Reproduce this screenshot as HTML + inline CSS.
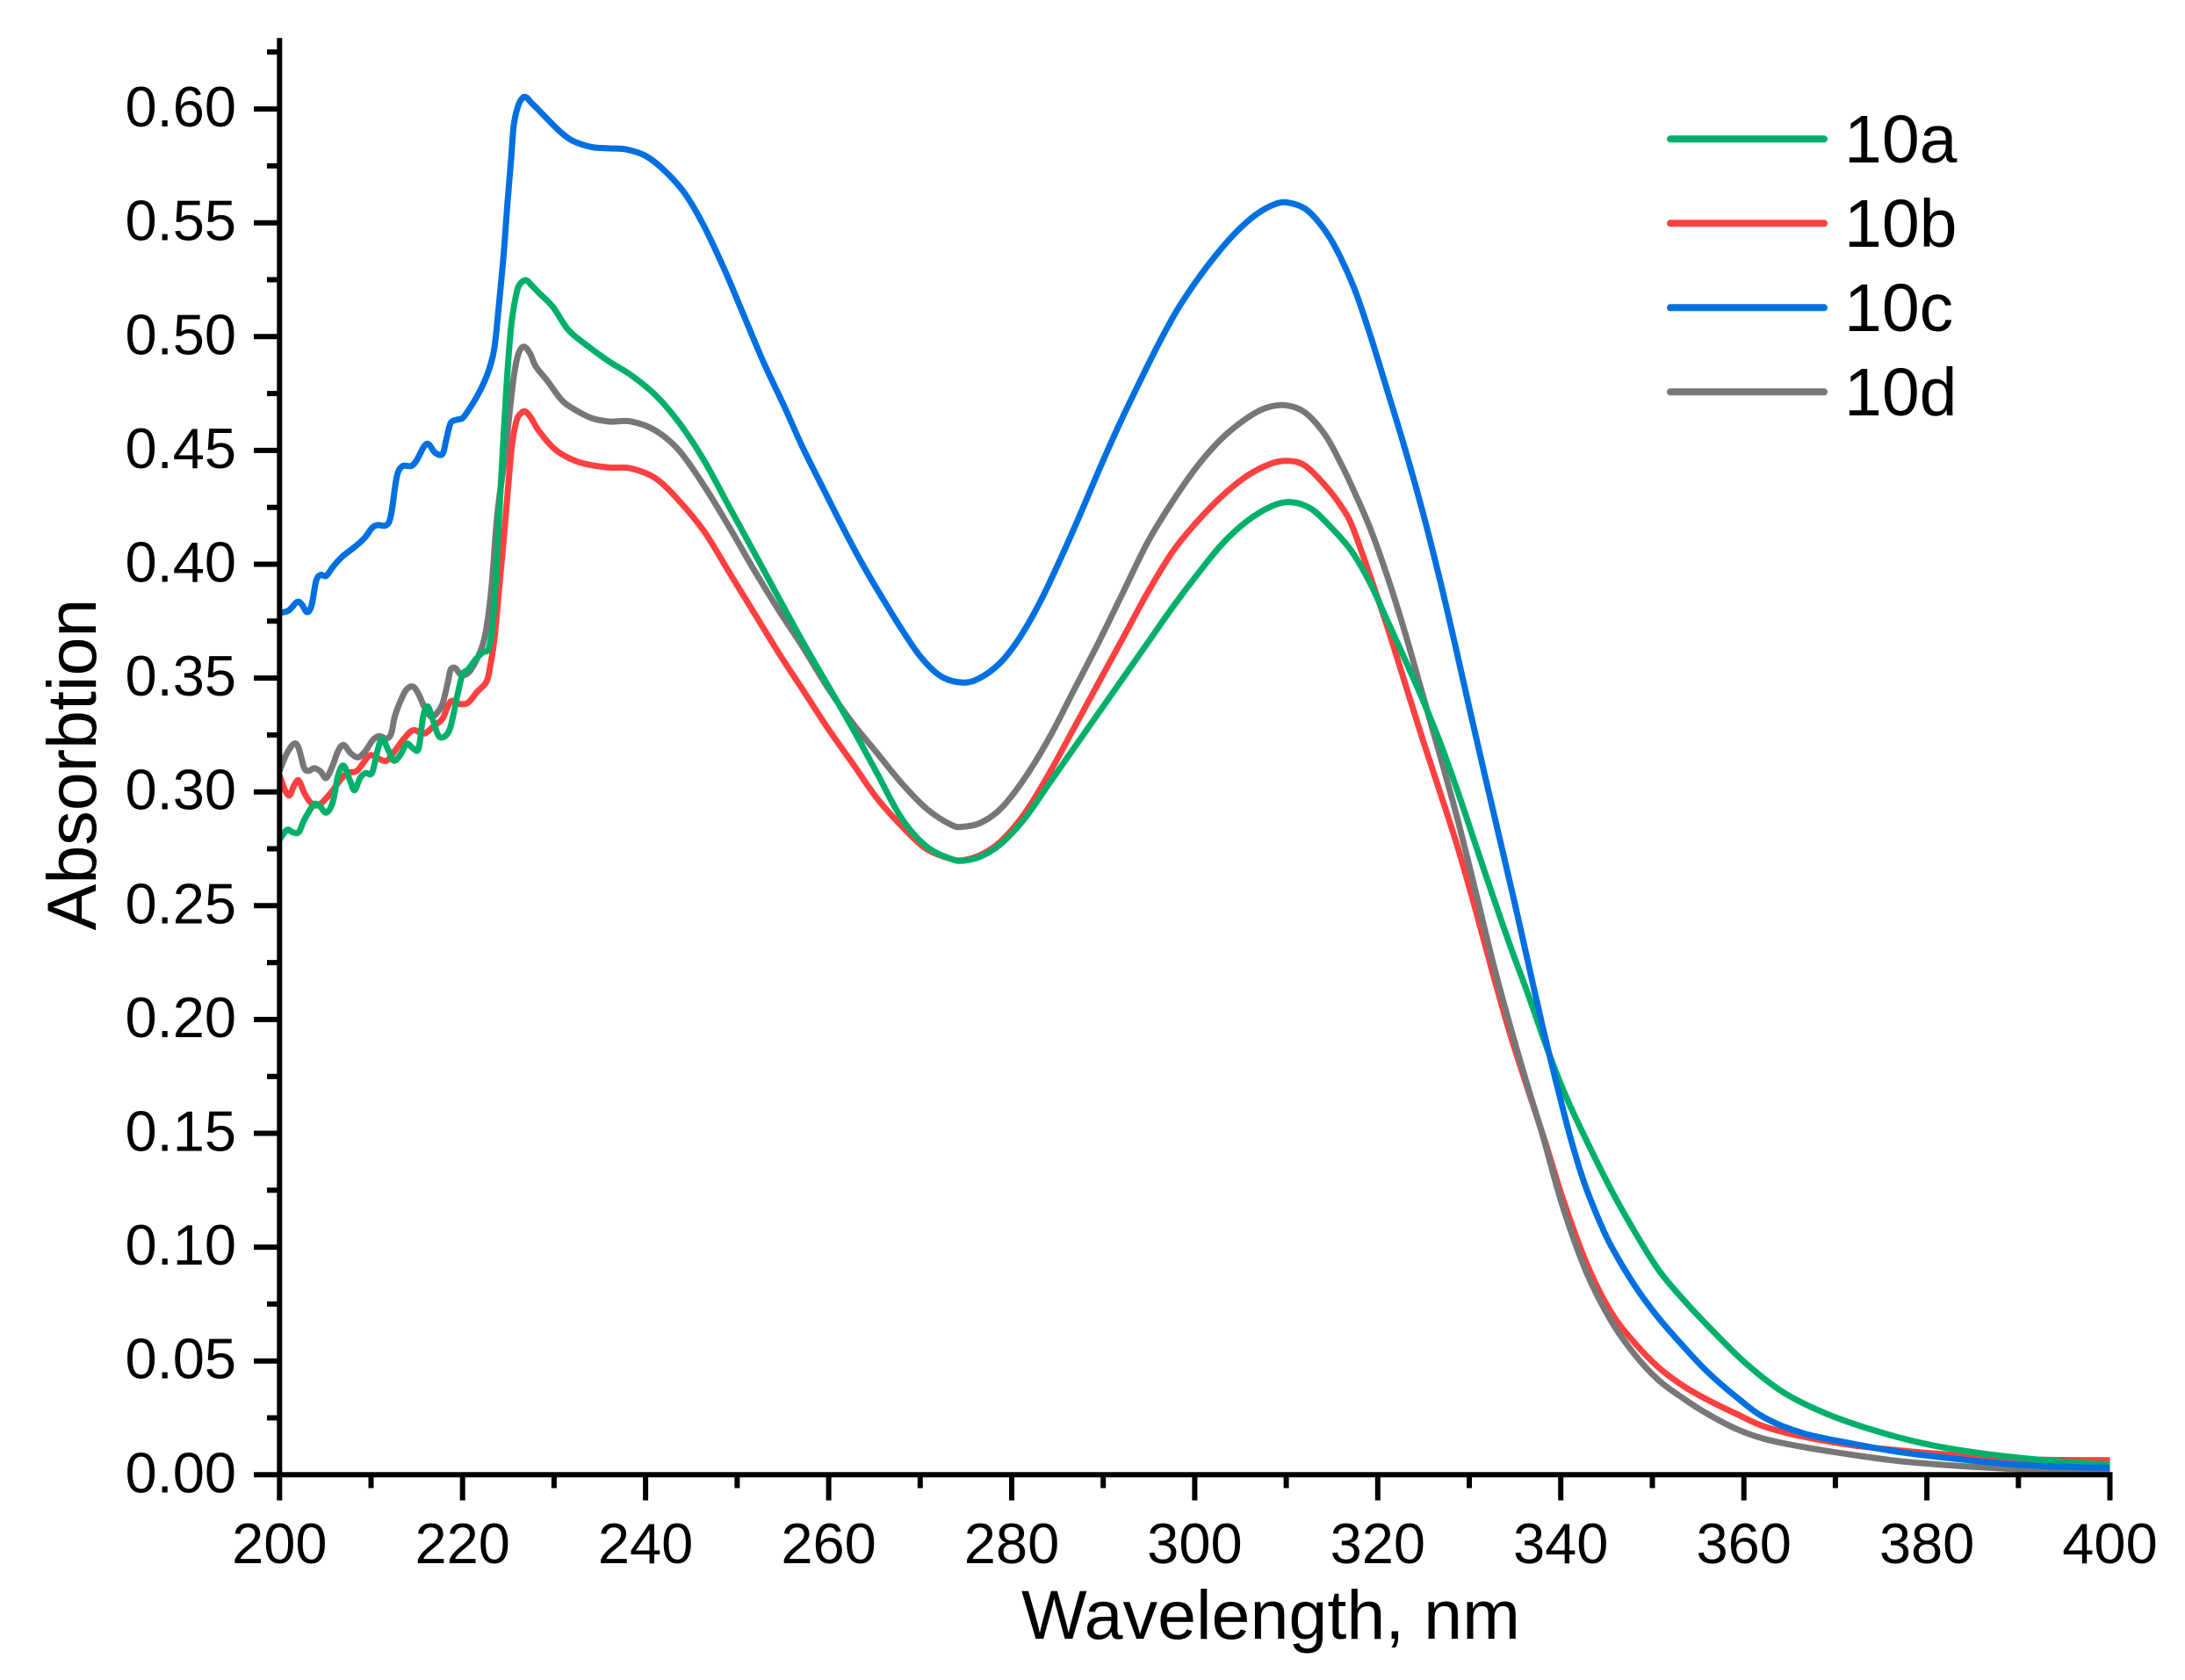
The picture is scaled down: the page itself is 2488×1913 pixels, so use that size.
<!DOCTYPE html>
<html><head><meta charset="utf-8"><style>
html,body{margin:0;padding:0;background:#fff;}
svg{display:block;}
text{font-family:"Liberation Sans",Arial,sans-serif;fill:#000;}
</style></head><body>
<svg id="chart" width="2488" height="1913" viewBox="0 0 2488 1913" xmlns="http://www.w3.org/2000/svg">
<rect width="2488" height="1913" fill="#fff"/>

<g id="curves" fill="none" stroke-linejoin="round" stroke-linecap="butt"></g>

<g id="raw" transform="matrix(10.421 0 0 -2592 -1765.9 1679.3)" fill="none" stroke-linejoin="round" stroke-linecap="butt">
<polyline class="d" vector-effect="non-scaling-stroke" stroke="#FF4040" stroke-width="7" points="200,0.3072 200.6,0.3007 201.1,0.2985 201.6,0.3029 202.1,0.305 202.7,0.2996 203.4,0.2953 204.3,0.2942 205.6,0.2996 206.6,0.305 207.4,0.3083 208.5,0.3094 209.8,0.3159 210.7,0.3148 211.7,0.3137 212.6,0.318 213.6,0.3234 214.6,0.3271 215.8,0.3256 216.8,0.3288 217.8,0.3321 218.7,0.3397 219.7,0.3386 220.6,0.3392 221.6,0.344 222.6,0.3483 223.0,0.3548 223.5,0.3678 224.0,0.3895 224.5,0.4111 225.0,0.435 225.4,0.4523 225.9,0.4631 226.4,0.4664 226.9,0.467 227.5,0.4642 228.3,0.4588 229.9,0.4512 231.5,0.4469 233.4,0.4441 236.0,0.4425 238.4,0.4421 241.1,0.4377 243.7,0.4277 246.4,0.4144 249.1,0.3967 251.8,0.379 254.5,0.3613 257.2,0.3447 259.9,0.328 262.6,0.3126 265.3,0.2971 268.0,0.2849 270.7,0.2749 273.4,0.2705 274.7,0.27 276.6,0.2723 278.8,0.2782 281.4,0.2904 284.1,0.3081 286.8,0.328 289.5,0.348 292.2,0.3679 294.9,0.3879 297.6,0.4056 300.3,0.4189 303.0,0.43 305.7,0.4388 308.4,0.4443 310.3,0.4454 312.1,0.4432 314.3,0.4344 316.0,0.4255 317.23,0.4165 319.15,0.395 321.07,0.3722 322.99,0.3476 324.91,0.323 326.83,0.2995 328.75,0.2755 330.67,0.2485 332.59,0.2200 334.51,0.1930 336.43,0.1690 338.35,0.1455 340.2,0.1215 342.8,0.0930 345.5,0.0713 348.1,0.0578 350.7,0.0471 353.4,0.039 356.0,0.033 359.2,0.0267 362.3,0.0211 366.5,0.0167 371.8,0.013 377.0,0.0107 382.3,0.0089 387.6,0.0074 392.8,0.0066 400,0.0064"/>
<polyline class="d" vector-effect="non-scaling-stroke" stroke="#777777" stroke-width="7" points="200,0.3093 200.8,0.3169 201.6,0.3212 202.1,0.3191 202.7,0.3104 203.2,0.3093 203.8,0.3104 204.5,0.3089 205.1,0.3061 205.8,0.3115 206.4,0.318 207.0,0.3206 207.8,0.3169 208.6,0.3152 209.4,0.318 210.2,0.3228 210.9,0.3245 211.7,0.3234 212.2,0.3256 212.6,0.3332 213.3,0.3407 213.9,0.3451 214.6,0.3462 215.2,0.3429 215.8,0.3375 216.5,0.3332 217.1,0.3342 217.8,0.3386 218.4,0.3483 218.7,0.3537 219.2,0.3544 219.8,0.3516 220.6,0.3522 221.4,0.357 222.2,0.3646 222.7,0.3743 223.2,0.3916 223.8,0.422 224.5,0.4436 225.1,0.4653 225.6,0.4826 226.1,0.4924 226.7,0.4956 227.4,0.4924 228.0,0.4869 229.3,0.4804 230.9,0.4718 232.5,0.4674 234.1,0.4642 236.0,0.4627 238.4,0.4627 241.1,0.4587 243.7,0.4498 246.4,0.4344 249.1,0.4166 251.8,0.3978 254.5,0.3801 257.2,0.3635 259.9,0.3458 262.6,0.3303 265.3,0.317 268.0,0.3037 270.7,0.2926 273.4,0.2855 274.7,0.2847 276.6,0.2864 278.8,0.2926 281.4,0.3059 284.1,0.3237 286.8,0.3447 289.5,0.3657 292.2,0.3879 294.9,0.41 297.6,0.4277 300.3,0.4432 303.0,0.4554 305.7,0.4642 307.8,0.4687 310.0,0.4698 312.1,0.4665 314.3,0.4565 316.0,0.4440 317.23,0.4337 319.15,0.4160 321.07,0.3944 322.99,0.3698 324.91,0.3427 326.83,0.3156 328.75,0.2875 330.67,0.2566 332.59,0.2250 334.51,0.1965 336.43,0.1700 338.03,0.1490 340.2,0.1180 342.8,0.0890 345.5,0.0676 348.1,0.0527 350.7,0.0415 353.4,0.0335 356.0,0.0268 359.2,0.0201 362.3,0.0157 366.5,0.0122 371.8,0.0088 377.0,0.006 382.3,0.0042 387.6,0.0029 392.8,0.002 400,0.0015"/>
<polyline class="d" vector-effect="non-scaling-stroke" stroke="#00B06A" stroke-width="7" points="200,0.279 200.8,0.2833 201.4,0.2823 202.1,0.2823 202.7,0.2877 203.7,0.2942 204.3,0.2942 205.1,0.2909 205.8,0.2953 206.4,0.3072 207.0,0.3115 207.7,0.305 208.2,0.3007 208.8,0.3061 209.4,0.3083 210.1,0.3083 210.7,0.318 211.2,0.3234 211.8,0.3191 212.5,0.3137 213.3,0.3169 213.9,0.3212 214.6,0.3191 215.2,0.3191 215.7,0.3332 216.2,0.3375 216.8,0.331 217.4,0.3245 218.1,0.3245 218.7,0.3288 219.4,0.3418 220.0,0.3516 220.6,0.3537 221.4,0.3581 222.2,0.3613 222.9,0.3635 223.4,0.3786 223.8,0.4068 224.3,0.4436 224.8,0.4783 225.3,0.5043 225.8,0.5173 226.2,0.5227 226.9,0.5248 227.5,0.5227 228.3,0.5194 229.9,0.5129 231.5,0.5032 233.4,0.4967 236.0,0.4891 238.4,0.4831 241.1,0.4742 243.7,0.462 246.4,0.4455 249.1,0.4255 251.8,0.4056 254.5,0.3856 257.2,0.3657 259.9,0.3469 262.6,0.328 265.3,0.3081 268.0,0.2882 270.7,0.276 273.4,0.2705 274.7,0.2698 276.6,0.2716 278.8,0.2771 281.4,0.2882 284.1,0.3037 286.8,0.3192 289.5,0.3347 292.2,0.3502 294.9,0.3657 297.6,0.3812 300.3,0.3956 303.0,0.4089 305.7,0.4189 308.4,0.4255 310.5,0.4273 312.7,0.4244 314.8,0.4166 317.1,0.4060 319.15,0.3919 321.07,0.3750 322.99,0.3580 324.91,0.3405 326.83,0.3215 328.75,0.3000 330.67,0.2770 332.59,0.2541 334.51,0.2319 336.43,0.2110 338.35,0.1890 340.27,0.1690 342.19,0.1520 345.5,0.1252 348.1,0.1066 350.7,0.0899 353.4,0.0769 356.0,0.0657 360.2,0.049 364.4,0.036 369.1,0.0267 374.4,0.0193 379.7,0.0137 384.9,0.01 390.2,0.0074 395.5,0.0055 400,0.0045"/>
<polyline class="d" vector-effect="non-scaling-stroke" stroke="#0070E0" stroke-width="7" points="200,0.3786 201,0.3797 201.9,0.3834 202.4,0.3825 203.0,0.379 203.5,0.3819 204.0,0.3927 204.5,0.3953 205.1,0.3949 205.9,0.3992 206.9,0.4035 208.3,0.4079 209.3,0.4116 210.1,0.4159 210.7,0.4172 211.7,0.4172 212.2,0.422 212.8,0.4382 213.4,0.443 214.4,0.4432 215.0,0.4458 215.8,0.4518 216.3,0.4527 217.0,0.449 217.8,0.4484 218.2,0.4544 218.7,0.462 219.4,0.4635 220.0,0.4642 220.6,0.4674 221.6,0.4739 222.4,0.4804 223.0,0.4869 223.5,0.4956 224.0,0.5151 224.5,0.5367 224.9,0.5584 225.3,0.5779 225.6,0.5931 226.1,0.6017 226.6,0.605 227.0,0.605 227.5,0.6028 228.3,0.5996 229.6,0.5942 230.9,0.5892 232.1,0.5859 234.1,0.5833 236.0,0.5827 237.8,0.5823 240.0,0.5794 242.1,0.5728 244.3,0.5628 246.4,0.5484 248.6,0.5296 250.7,0.5096 252.9,0.4886 255.1,0.4698 257.2,0.451 259.4,0.4333 261.5,0.4166 263.7,0.4 265.8,0.3856 268.0,0.3713 270.1,0.3591 272.3,0.3507 274.7,0.348 276.6,0.3502 278.8,0.3569 280.9,0.3679 283.1,0.3834 285.2,0.4012 287.4,0.4211 289.5,0.441 291.7,0.4609 293.8,0.4786 296.0,0.4964 298.1,0.5118 300.3,0.5251 302.4,0.5362 304.6,0.5462 306.8,0.5539 308.9,0.5584 310.3,0.5588 312.1,0.5561 313.8,0.5490 315.4,0.5390 317.4,0.5215 319.15,0.5010 321.07,0.4760 322.99,0.4505 324.91,0.4230 326.83,0.3925 328.43,0.3650 330.03,0.3365 331.63,0.3085 333.23,0.2810 334.83,0.2535 336.43,0.2250 338.03,0.1965 339.62,0.1705 341.06,0.1480 342.5,0.1290 344.0,0.1135 345.5,0.1005 348.1,0.0830 350.7,0.0688 353.4,0.0564 356.0,0.0453 359.2,0.0341 362.3,0.0250 366.5,0.0182 371.8,0.0137 377.0,0.01 382.3,0.0074 387.6,0.0052 392.8,0.0038 400,0.003"/>
</g>

<g stroke="#000" stroke-width="6" fill="none">
<line x1="318.3" y1="43.3" x2="318.3" y2="1682.3"/>
<line x1="289" y1="1679.3" x2="2405.5" y2="1679.3"/>
<path d="M289 1549.7H318 M289 1420.1H318 M289 1290.5H318 M289 1160.9H318 M289 1031.3H318 M289 901.7H318 M289 772.1H318 M289 642.5H318 M289 512.9H318 M289 383.3H318 M289 253.7H318 M289 124.1H318"/>
<path d="M304 1614.5H318 M304 1484.9H318 M304 1355.3H318 M304 1225.7H318 M304 1096.1H318 M304 966.5H318 M304 836.9H318 M304 707.3H318 M304 577.7H318 M304 448.1H318 M304 318.5H318 M304 188.9H318 M304 59.3H318"/>
<path d="M318.3 1679V1708.5 M526.7 1679V1708.5 M735.1 1679V1708.5 M943.6 1679V1708.5 M1152 1679V1708.5 M1360.4 1679V1708.5 M1568.8 1679V1708.5 M1777.2 1679V1708.5 M1985.7 1679V1708.5 M2194.1 1679V1708.5 M2402.5 1679V1708.5"/>
<path d="M422.5 1679V1694.5 M630.9 1679V1694.5 M839.4 1679V1694.5 M1047.8 1679V1694.5 M1256.2 1679V1694.5 M1464.6 1679V1694.5 M1673 1679V1694.5 M1881.5 1679V1694.5 M2089.9 1679V1694.5 M2298.3 1679V1694.5"/>
</g>

<g font-size="65" text-anchor="end">
<text x="269" y="1699.3">0.00</text>
<text x="269" y="1569.7">0.05</text>
<text x="269" y="1440.1">0.10</text>
<text x="269" y="1310.5">0.15</text>
<text x="269" y="1180.9">0.20</text>
<text x="269" y="1051.3">0.25</text>
<text x="269" y="921.7">0.30</text>
<text x="269" y="792.1">0.35</text>
<text x="269" y="662.5">0.40</text>
<text x="269" y="532.9">0.45</text>
<text x="269" y="403.3">0.50</text>
<text x="269" y="273.7">0.55</text>
<text x="269" y="144.1">0.60</text>
</g>

<g font-size="65" text-anchor="middle">
<text x="318.3" y="1780">200</text>
<text x="526.7" y="1780">220</text>
<text x="735.1" y="1780">240</text>
<text x="943.6" y="1780">260</text>
<text x="1152" y="1780">280</text>
<text x="1360.4" y="1780">300</text>
<text x="1568.8" y="1780">320</text>
<text x="1777.2" y="1780">340</text>
<text x="1985.7" y="1780">360</text>
<text x="2194.1" y="1780">380</text>
<text x="2402.5" y="1780">400</text>
</g>

<text x="1163" y="1866" font-size="79">Wavelength, nm</text>
<text transform="translate(109,870.5) rotate(-90)" font-size="79" text-anchor="middle">Absorbtion</text>

<g stroke-width="8" stroke-linecap="round">
<line x1="1902" y1="158.3" x2="2077" y2="158.3" stroke="#00B06A"/>
<line x1="1902" y1="254.3" x2="2077" y2="254.3" stroke="#FF4040"/>
<line x1="1902" y1="350.3" x2="2077" y2="350.3" stroke="#0070E0"/>
<line x1="1902" y1="446.3" x2="2077" y2="446.3" stroke="#777777"/>
</g>
<g font-size="77">
<text x="2100" y="185">10a</text>
<text x="2100" y="281">10b</text>
<text x="2100" y="377">10c</text>
<text x="2100" y="473">10d</text>
</g>
</svg>
<script>
(function(){
  try{
    var NS='http://www.w3.org/2000/svg';
    var raw=document.getElementById('raw');
    var out=document.getElementById('curves');
    var pls=raw.querySelectorAll('polyline.d');
    for(var k=0;k<pls.length;k++){
      var pl=pls[k];
      var nums=pl.getAttribute('points').trim().split(/[\s,]+/).map(Number);
      var p=[];
      for(var i=0;i+1<nums.length;i+=2){p.push([10.421*nums[i]-1765.9,1679.3-2592*nums[i+1]]);}
      var d='M'+p[0][0].toFixed(2)+' '+p[0][1].toFixed(2);
      for(var j=0;j<p.length-1;j++){
        var p0=p[j>0?j-1:j],p1=p[j],p2=p[j+1],p3=p[j+2<p.length?j+2:j+1];
        var c1x=p1[0]+(p2[0]-p0[0])/6,c1y=p1[1]+(p2[1]-p0[1])/6;
        var c2x=p2[0]-(p3[0]-p1[0])/6,c2y=p2[1]-(p3[1]-p1[1])/6;
        d+=' C'+c1x.toFixed(2)+' '+c1y.toFixed(2)+' '+c2x.toFixed(2)+' '+c2y.toFixed(2)+' '+p2[0].toFixed(2)+' '+p2[1].toFixed(2);
      }
      var path=document.createElementNS(NS,'path');
      path.setAttribute('d',d);
      path.setAttribute('stroke',pl.getAttribute('stroke'));
      path.setAttribute('stroke-width','7');
      out.appendChild(path);
    }
    raw.parentNode.removeChild(raw);
  }catch(e){}
})();
</script>
</body></html>
